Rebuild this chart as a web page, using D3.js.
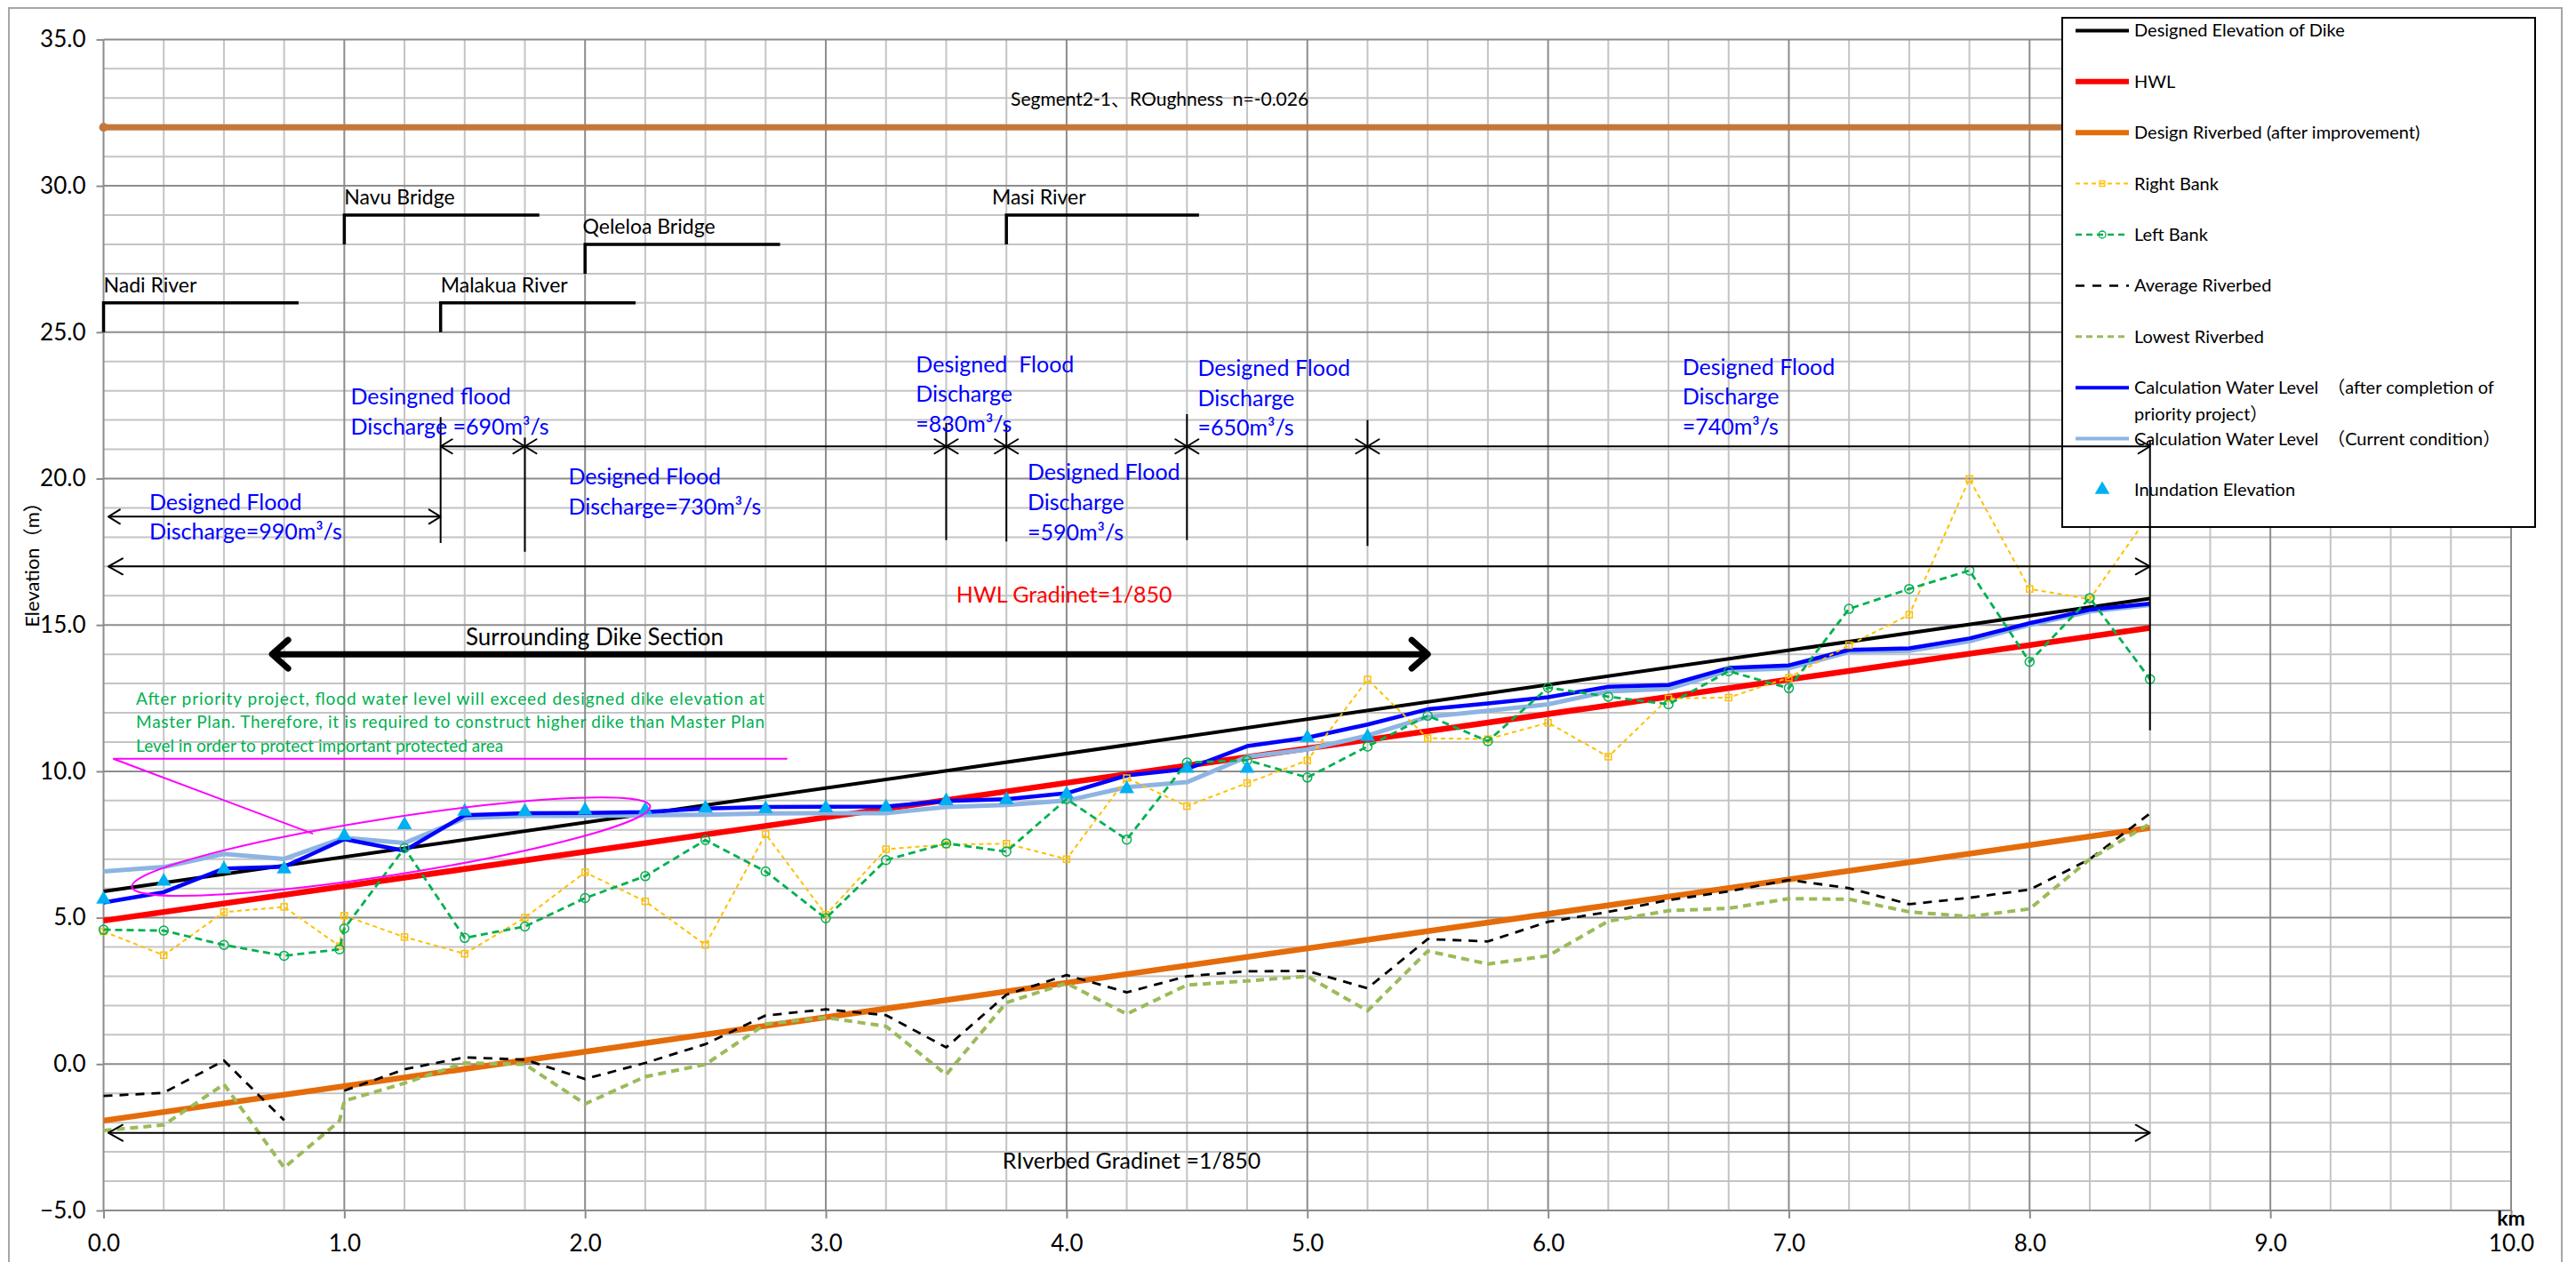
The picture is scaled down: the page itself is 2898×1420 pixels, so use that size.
<!DOCTYPE html>
<html>
<head>
<meta charset="utf-8">
<title>Longitudinal Profile</title>
<script src="https://cdn.jsdelivr.net/npm/d3@7"></script>
<style>
  html, body { margin: 0; padding: 0; background: #fff; }
  svg { display: block; font-family: Lato, "Noto Sans", "Noto Sans CJK JP", sans-serif; }
  svg text { white-space: pre; }
</style>
</head>
<body>
<svg id="chart" width="2898" height="1420"></svg>
<script>
// ---- Survey stations (km) ----
const stations = [0, 0.25, 0.5, 0.75, 1, 1.25, 1.5, 1.75, 2, 2.25, 2.5, 2.75, 3, 3.25, 3.5, 3.75,
  4, 4.25, 4.5, 4.75, 5, 5.25, 5.5, 5.75, 6, 6.25, 6.5, 6.75, 7, 7.25, 7.5, 7.75, 8, 8.25, 8.5];
// cross sections including the extra section just upstream of 1.0 km
const surveyStations = [0, 0.25, 0.5, 0.75, 0.98, 1, 1.25, 1.5, 1.75, 2, 2.25, 2.5, 2.75, 3, 3.25, 3.5, 3.75,
  4, 4.25, 4.5, 4.75, 5, 5.25, 5.5, 5.75, 6, 6.25, 6.5, 6.75, 7, 7.25, 7.5, 7.75, 8, 8.25, 8.5];

// ---- Water levels (m) ----
const waterLevelPriority = [5.52, 5.87, 6.68, 6.74, 7.68, 7.29, 8.50, 8.57, 8.58, 8.61, 8.73, 8.78, 8.79, 8.80,
  8.99, 9.05, 9.25, 9.86, 10.08, 10.86, 11.15, 11.60, 12.12, 12.32, 12.53, 12.89, 12.95, 13.53, 13.62,
  14.15, 14.20, 14.54, 15.06, 15.52, 15.73];
const waterLevelCurrent = [6.58, 6.73, 7.18, 7.01, 7.73, 7.55, 8.40, 8.48, 8.48, 8.50, 8.52, 8.56, 8.57, 8.57,
  8.78, 8.85, 9.00, 9.46, 9.63, 10.50, 10.75, 11.22, 11.86, 12.07, 12.29, 12.73, 12.82, 13.44, 13.52,
  14.08, 14.12, 14.44, 15.00, 15.46, 15.68];
const inundationElevation = [5.63, 6.24, 6.66, 6.66, 7.80, 8.17, 8.63, 8.63, 8.67, 8.68, 8.74, 8.72, 8.75, 8.78,
  8.99, 9.03, 9.22, 9.40, 10.10, 10.10, 11.15, 11.18, null, null, null, null, null, null, null,
  null, null, null, null, null, null];

// ---- Surveyed banks and riverbed (m) ----
const rightBank = [4.53, 3.72, 5.19, 5.37, 4.03, 5.07, 4.34, 3.77, 5.00, 6.55, 5.56, 4.07, 7.86, 5.10, 7.34,
  7.50, 7.53, 7.00, 9.77, 8.81, 9.60, 10.37, 13.14, 11.13, 11.10, 11.66, 10.50, 12.49, 12.52, 13.20,
  14.31, 15.35, 19.99, 16.23, 15.88, 18.80];
const leftBank = [4.59, 4.56, 4.07, 3.70, 3.92, 4.63, 7.38, 4.31, 4.70, 5.67, 6.42, 7.65, 6.58, 4.98, 6.97,
  7.54, 7.26, 9.05, 7.67, 10.30, 10.38, 9.79, 10.85, 11.90, 11.03, 12.86, 12.55, 12.29, 13.42, 12.84,
  15.55, 16.23, 16.86, 13.74, 15.92, 13.15];
const averageRiverbed = [-1.09, -0.98, 0.12, -1.92, null, -0.91, -0.18, 0.23, 0.15, -0.51, 0.04, 0.68, 1.66,
  1.87, 1.67, 0.57, 2.37, 3.04, 2.45, 3.00, 3.17, 3.18, 2.59, 4.27, 4.19, 4.86, 5.20, 5.60, 5.90, 6.29,
  6.01, 5.46, 5.68, 5.96, 7.00, 8.56];
const lowestRiverbed = [-2.27, -2.08, -0.69, -3.54, -1.94, -1.26, -0.65, 0.04, -0.01, -1.36, -0.43, -0.01, 1.37,
  1.59, 1.29, -0.36, 2.10, 2.76, 1.71, 2.70, 2.84, 3.00, 1.82, 3.86, 3.42, 3.70, 4.88, 5.24, 5.32, 5.65,
  5.63, 5.20, 5.04, 5.30, 7.00, 8.21];

// ---- Design grades (1/850) ----
const gradeStations = [0, 8.5];
const dikeElevation = [5.9, 15.9];
const highWaterLevel = [4.9, 14.9];
const designRiverbed = [-1.93, 8.07];
const segmentStations = [0, 8.5];
const segmentLevel = [32, 32];

// ---- Axis ticks ----
const xTicks = [0, 1, 2, 3, 4, 5, 6, 7, 8, 9, 10];
const yTicks = [-5, 0, 5, 10, 15, 20, 25, 30, 35];

// ---- Tributaries and bridges ----
const bridgeNames = ["Nadi River", "Navu Bridge", "Malakua River", "Qeleloa Bridge", "Masi River"];
const bridgeKm = [0, 1.0, 1.4, 2.0, 3.75];
const bridgeBase = [25, 28, 25, 27, 28];
const bridgeEndKm = [0.81, 1.81, 2.21, 2.81, 4.55];
const bridgeTextKm = [0, 1.0, 1.4, 1.99, 3.69];

// ---- Design flood discharge reaches ----
const reachBounds = [1.4, 1.75, 3.5, 3.75, 4.5, 5.25, 8.5];
const reachBoundTop = [22.1, 21.4, 21.9, 21.85, 22.2, 22.0, 21.3];
const reachBoundBottom = [17.8, 17.5, 17.9, 17.85, 17.9, 17.7, 11.4];
const dischargeText = [
  ["Designed Flood", "Discharge=990m³/s"],
  ["Desingned flood", "Discharge =690m³/s"],
  ["Designed Flood", "Discharge=730m³/s"],
  ["Designed  Flood", "Discharge", "=830m³/s"],
  ["Designed Flood", "Discharge", "=590m³/s"],
  ["Designed Flood", "Discharge", "=650m³/s"],
  ["Designed Flood", "Discharge", "=740m³/s"]
];
const dischargeTextKm = [0.19, 1.026, 1.931, 3.374, 3.838, 4.545, 6.558];
const dischargeTextElev = [19.2, 22.79, 20.06, 23.9, 20.21, 23.77, 23.81];

const noteLines = [
  "After priority project, flood water level will exceed designed dike elevation at",
  "Master Plan. Therefore, it is required to construct higher dike than Master Plan",
  "Level in order to protect important protected area"
];

// ---- Layout ----
const svg = d3.select("#chart");
const x = d3.scaleLinear().domain([0, 10]).range([116.5, 2825]);
const y = d3.scaleLinear().domain([-5, 35]).range([1362, 44.4]);

// chart area frame
svg.append("rect").attr("x", 10).attr("y", 9).attr("width", 2872).attr("height", 1440)
  .attr("fill", "#fff").attr("stroke", "#a6a6a6").attr("stroke-width", 2);

// ---- Gridlines ----
const grid = svg.append("g");
const vLines = d3.range(0, 10.001, 0.25);
const hLines = d3.range(-5, 35.001, 1);
const isMajorX = k => Math.abs(k - Math.round(k)) < 1e-9;
const isMajorY = v => Math.abs(v % 5) < 1e-9;
grid.selectAll(".hmin").data(hLines.filter(v => !isMajorY(v))).join("line")
  .attr("x1", x(0)).attr("x2", x(10)).attr("y1", d => y(d)).attr("y2", d => y(d))
  .attr("stroke", "#c4c4c4").attr("stroke-width", 2);
grid.selectAll(".vmin").data(vLines.filter(k => !isMajorX(k))).join("line")
  .attr("y1", y(-5)).attr("y2", y(35)).attr("x1", d => x(d)).attr("x2", d => x(d))
  .attr("stroke", "#c4c4c4").attr("stroke-width", 2);
grid.selectAll(".hmaj").data(hLines.filter(isMajorY)).join("line")
  .attr("x1", x(0)).attr("x2", x(10)).attr("y1", d => y(d)).attr("y2", d => y(d))
  .attr("stroke", "#8c8c8c").attr("stroke-width", 2);
grid.selectAll(".vmaj").data(vLines.filter(isMajorX)).join("line")
  .attr("y1", y(-5)).attr("y2", y(35)).attr("x1", d => x(d)).attr("x2", d => x(d))
  .attr("stroke", "#8c8c8c").attr("stroke-width", 2);

// ---- Axes ----
const styleAxis = g => {
  g.select(".domain").remove();
  g.attr("font-family", "Lato, sans-serif").attr("font-size", 26);
  g.selectAll("line").attr("stroke", "#8c8c8c").attr("stroke-width", 2);
  g.selectAll("text").attr("fill", "#000");
};
svg.append("g").attr("transform", `translate(${x(0)},0)`)
  .call(d3.axisLeft(y).tickValues(yTicks).tickFormat(d3.format(".1f")).tickSize(8).tickPadding(12))
  .call(styleAxis);
svg.append("g").attr("transform", `translate(0,${y(-5)})`)
  .call(d3.axisBottom(x).tickValues(xTicks).tickFormat(d3.format(".1f")).tickSize(9).tickPadding(19))
  .call(styleAxis);

svg.append("text").attr("x", x(10)).attr("y", 1379).attr("text-anchor", "middle")
  .attr("font-size", 23).attr("font-weight", "bold").text("km");
svg.append("text").attr("transform", "translate(44,630) rotate(-90)").attr("text-anchor", "middle")
  .attr("font-size", 22).text("Elevation（m）");

// ---- Series ----
const series = svg.append("g");
const toPoints = (xs, ys) => xs.map((k, i) => ({ k, v: ys[i] }));
const lineGen = d3.line().defined(d => d.v != null).x(d => x(d.k)).y(d => y(d.v));

function drawLine(xs, ys, color, width, dash) {
  series.append("path").datum(toPoints(xs, ys)).attr("d", lineGen)
    .attr("fill", "none").attr("stroke", color).attr("stroke-width", width)
    .attr("stroke-dasharray", dash || null).attr("stroke-linejoin", "round");
}

const C = {
  dike: "#000000", hwl: "#FF0000", bed: "#E46C0A", segment: "#C5773A",
  right: "#FFC000", left: "#00B050", avg: "#000000", low: "#9BBB59",
  prio: "#0000FF", curr: "#8DB4E2", inund: "#00B0F0"
};

drawLine(segmentStations, segmentLevel, C.segment, 7);
series.append("circle").attr("cx", x(segmentStations[0])).attr("cy", y(segmentLevel[0])).attr("r", 5).attr("fill", C.segment);
drawLine(gradeStations, designRiverbed, C.bed, 6.5);
drawLine(gradeStations, highWaterLevel, C.hwl, 6.5);
drawLine(gradeStations, dikeElevation, C.dike, 4);
drawLine(stations, waterLevelCurrent, C.curr, 5);
drawLine(stations, waterLevelPriority, C.prio, 4.5);
drawLine(surveyStations, averageRiverbed, C.avg, 2.8, "10,8");
drawLine(surveyStations, lowestRiverbed, C.low, 4, "9,6");
drawLine(surveyStations, rightBank, C.right, 2, "5,4");
series.selectAll(".rb").data(toPoints(surveyStations, rightBank)).join("rect")
  .attr("x", d => x(d.k) - 3.5).attr("y", d => y(d.v) - 3.5).attr("width", 7).attr("height", 7)
  .attr("fill", "none").attr("stroke", C.right).attr("stroke-width", 1.5);
drawLine(surveyStations, leftBank, C.left, 2.8, "8,5");
series.selectAll(".lb").data(toPoints(surveyStations, leftBank)).join("circle")
  .attr("cx", d => x(d.k)).attr("cy", d => y(d.v)).attr("r", 5)
  .attr("fill", "none").attr("stroke", C.left).attr("stroke-width", 1.5);
series.selectAll(".inund").data(toPoints(stations, inundationElevation).filter(d => d.v != null)).join("path")
  .attr("d", d3.symbol(d3.symbolTriangle, 120))
  .attr("transform", d => `translate(${x(d.k)},${y(d.v)})`)
  .attr("fill", C.inund);

// ---- Legend ----
const legend = svg.append("g");
legend.append("rect").attr("x", 2320).attr("y", 20).attr("width", 532).attr("height", 573)
  .attr("fill", "#fff").attr("stroke", "#000").attr("stroke-width", 2);
const legendItems = [
  { text: ["Designed Elevation of Dike"], color: C.dike, width: 4 },
  { text: ["HWL"], color: C.hwl, width: 6 },
  { text: ["Design Riverbed (after improvement)"], color: C.bed, width: 6 },
  { text: ["Right Bank"], color: C.right, width: 2, dash: "5,4", marker: "square" },
  { text: ["Left Bank"], color: C.left, width: 2.5, dash: "7,5", marker: "circle" },
  { text: ["Average Riverbed"], color: C.avg, width: 2.5, dash: "10,9" },
  { text: ["Lowest Riverbed"], color: C.low, width: 3, dash: "7,5" },
  { text: ["Calculation Water Level　（after completion of", "priority project）"], color: C.prio, width: 4 },
  { text: ["Calculation Water Level　（Current condition）"], color: C.curr, width: 4 },
  { text: ["Inundation Elevation"], color: C.inund, marker: "triangle" }
];
legendItems.forEach((it, i) => {
  const cy = 34.4 + i * 57.4;
  if (it.width) {
    legend.append("line").attr("x1", 2335).attr("x2", 2395).attr("y1", cy).attr("y2", cy)
      .attr("stroke", it.color).attr("stroke-width", it.width).attr("stroke-dasharray", it.dash || null);
  }
  if (it.marker === "square") {
    legend.append("rect").attr("x", 2362).attr("y", cy - 3).attr("width", 6).attr("height", 6)
      .attr("fill", "none").attr("stroke", it.color).attr("stroke-width", 1.3);
  } else if (it.marker === "circle") {
    legend.append("circle").attr("cx", 2365).attr("cy", cy).attr("r", 4)
      .attr("fill", "none").attr("stroke", it.color).attr("stroke-width", 1.3);
  } else if (it.marker === "triangle") {
    legend.append("path").attr("d", d3.symbol(d3.symbolTriangle, 120))
      .attr("transform", `translate(2365,${cy})`).attr("fill", it.color);
  }
  it.text.forEach((t, j) => {
    legend.append("text").attr("x", 2401).attr("y", cy + j * 30).attr("dy", "0.35em")
      .attr("font-size", 20).attr("fill", "#000").text(t);
  });
});

// ---- Annotations ----
const ann = svg.append("g");

function chevron(px, py, dir, len, half, width) {
  ann.append("path")
    .attr("d", `M${px - dir * len},${py - half}L${px},${py}L${px - dir * len},${py + half}`)
    .attr("fill", "none").attr("stroke", "#000").attr("stroke-width", width)
    .attr("stroke-linecap", "round").attr("stroke-linejoin", "round");
}
function doubleArrow(k0, k1, v, width = 2, len = 13, half = 8) {
  const x0 = x(k0), x1 = x(k1), yy = y(v);
  ann.append("line").attr("x1", x0).attr("x2", x1).attr("y1", yy).attr("y2", yy)
    .attr("stroke", "#000").attr("stroke-width", width);
  chevron(x0, yy, -1, len, half, width);
  chevron(x1, yy, 1, len, half, width);
}

// tributary / bridge markers
bridgeNames.forEach((name, i) => {
  const b = bridgeBase[i];
  ann.append("path")
    .attr("d", `M${x(bridgeKm[i])},${y(b)}V${y(b + 1)}H${x(bridgeEndKm[i])}`)
    .attr("fill", "none").attr("stroke", "#000").attr("stroke-width", 3.5);
  ann.append("text").attr("x", x(bridgeTextKm[i])).attr("y", y(b + 1) - 12)
    .attr("font-size", 23).attr("fill", "#000").text(name);
});

ann.append("text").attr("x", x(3.768)).attr("y", y(32.96)).attr("dy", "0.35em")
  .attr("font-size", 21).attr("fill", "#000").text("Segment2-1、ROughness  n=-0.026");

// discharge reach dividers and arrows
reachBounds.forEach((k, i) => {
  ann.append("line").attr("x1", x(k)).attr("x2", x(k))
    .attr("y1", y(reachBoundTop[i])).attr("y2", y(reachBoundBottom[i]))
    .attr("stroke", "#000").attr("stroke-width", 2);
});
doubleArrow(0.02, reachBounds[0], 18.7);
for (let i = 0; i < reachBounds.length - 1; i++) {
  doubleArrow(reachBounds[i], reachBounds[i + 1], 21.1);
}
dischargeText.forEach((lines, i) => {
  lines.forEach((t, j) => {
    ann.append("text").attr("x", x(dischargeTextKm[i])).attr("y", y(dischargeTextElev[i] - j * 1.02))
      .attr("dy", "0.35em").attr("font-size", 25).attr("fill", "#0000FF").text(t);
  });
});

// gradients
doubleArrow(0.02, 8.5, 17.0, 2, 16, 9);
ann.append("text").attr("x", x(3.99)).attr("y", y(16.04)).attr("dy", "0.35em").attr("text-anchor", "middle")
  .attr("font-size", 25).attr("fill", "#FF0000").text("HWL Gradinet=1/850");
doubleArrow(0.02, 8.5, -2.35, 2, 16, 9);
ann.append("text").attr("x", x(4.27)).attr("y", y(-3.32)).attr("dy", "0.35em").attr("text-anchor", "middle")
  .attr("font-size", 25).attr("fill", "#000").text("RIverbed Gradinet =1/850");

// surrounding dike section
doubleArrow(0.7, 5.5, 14.0, 7, 18, 16);
ann.append("text").attr("x", x(2.04)).attr("y", y(14.59)).attr("dy", "0.35em").attr("text-anchor", "middle")
  .attr("font-size", 26).attr("fill", "#000").text("Surrounding Dike Section");

// note on dike elevation
noteLines.forEach((t, j) => {
  const tx = ann.append("text").attr("x", x(0.135)).attr("y", y(12.49 - j * 0.81)).attr("dy", "0.35em")
    .attr("font-size", 19).attr("fill", "#00B050").text(t);
  if (j < 2) tx.attr("textLength", 707).attr("lengthAdjust", "spacing");
});

// callout to the section where the water level rises above the dike
const calloutPath = [[2.84, 10.43], [0.04, 10.43], [0.87, 7.87]];
ann.append("path").attr("d", d3.line().x(d => x(d[0])).y(d => y(d[1]))(calloutPath))
  .attr("fill", "none").attr("stroke", "#FF00FF").attr("stroke-width", 2);
const ellipseAxis = [[0.118, 6.05], [2.27, 8.81]];
const p1 = [x(ellipseAxis[0][0]), y(ellipseAxis[0][1])];
const p2 = [x(ellipseAxis[1][0]), y(ellipseAxis[1][1])];
const ecx = (p1[0] + p2[0]) / 2, ecy = (p1[1] + p2[1]) / 2;
const eang = Math.atan2(p2[1] - p1[1], p2[0] - p1[0]) * 180 / Math.PI;
ann.append("ellipse").attr("cx", 0).attr("cy", 0)
  .attr("rx", Math.hypot(p2[0] - p1[0], p2[1] - p1[1]) / 2).attr("ry", 32)
  .attr("transform", `translate(${ecx},${ecy}) rotate(${eang})`)
  .attr("fill", "none").attr("stroke", "#FF00FF").attr("stroke-width", 2);
</script>
</body>
</html>
